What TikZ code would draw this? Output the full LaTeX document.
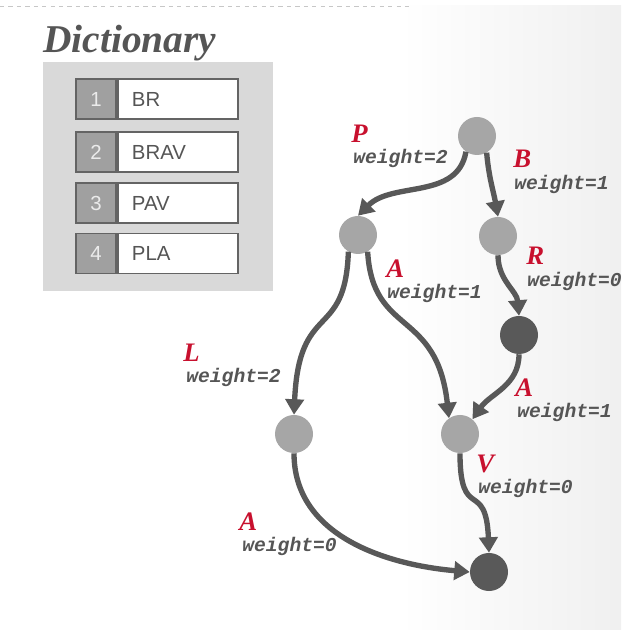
\documentclass[tikz,border=0pt]{standalone}
\usepackage{fontspec}
\setmainfont{Liberation Serif}
\setsansfont{Liberation Sans}
\setmonofont{Liberation Mono}
\usepackage{tikz}
\usetikzlibrary{arrows.meta,positioning}

\definecolor{lightnode}{RGB}{166,166,166}
\definecolor{darknode}{RGB}{89,89,89}
\definecolor{edgegray}{RGB}{88,88,88}
\definecolor{labelred}{RGB}{200,16,46}
\definecolor{textgray}{RGB}{85,85,85}
\definecolor{panelgray}{RGB}{217,217,217}
\definecolor{cellgray}{RGB}{160,160,160}
\definecolor{boxborder}{RGB}{100,100,100}

\begin{document}
\begin{tikzpicture}[x=0.025cm,y=0.025cm,>={Triangle[width=13pt,length=11pt]}]
\tikzstyle{light}=[circle,fill=lightnode,minimum size=0.95cm,inner sep=0pt]
\tikzstyle{dark}=[circle,fill=darknode,minimum size=0.95cm,inner sep=0pt]
\tikzstyle{link}=[->,draw=edgegray,line width=3.8pt]
\tikzstyle{letter}=[anchor=base west,inner sep=0pt,text=labelred,font=\fontsize{19}{19}\selectfont\bfseries\itshape]
\tikzstyle{weight}=[anchor=base west,inner sep=0pt,text=textgray,font=\fontsize{14}{14}\selectfont\ttfamily\bfseries\itshape]
\tikzstyle{numcell}=[draw=boxborder,line width=1.4pt,fill=cellgray,text=white!92!black,minimum width=1cm,minimum height=1cm,inner sep=0pt,font=\sffamily\fontsize{14.5}{14.5}\selectfont]
\tikzstyle{wordcell}=[draw=boxborder,line width=1.4pt,fill=white,text=textgray,minimum height=1cm,text width=2.3cm,inner xsep=0.35cm,inner ysep=0pt,align=left,font=\sffamily\fontsize{14.5}{14.5}\selectfont]

\useasboundingbox (0,0) rectangle (621,630);
\shade[left color=white,right color=black!6] (400,0) rectangle (621,624);
\draw[dashed,line width=0.6pt,black!22] (0,624) -- (410,624);

% dictionary
\node[anchor=base west,inner sep=0pt,text=textgray,font=\fontsize{28}{28}\selectfont\bfseries\itshape] (title) at (43,577) {Dictionary};
\fill[panelgray] (43,339) rectangle (273,568);
\foreach \n/\w/\y in {1/BR/531,2/BRAV/478,3/PAV/427,4/PLA/376.5}{
  \node[numcell] (num\n) at (96,\y) {\n};
  \node[wordcell,right=0pt of num\n] (word\n) {\w};
}

% trie
\node[light] (N0) at (477,494) {};
\node[light] (NP) at (358,395) {};
\node[light] (NB) at (498,394) {};
\node[dark]  (NBR) at (519,295) {};
\node[light] (NPL) at (294,196) {};
\node[light] (NV) at (460,196) {};
\node[dark]  (NEnd) at (489,58) {};

\draw[link] (N0.235) to[out=260,in=45] (NP.90);
\draw[link] (N0.300) to[out=275,in=100] (NB.90);
\draw[link] (NB.270) to[out=270,in=95] (NBR.90);
\draw[link] (NP.240) .. controls +(-3,-90) and +(5,115) .. (NPL.90);
\draw[link] (NP.300) .. controls +(5,-85) and +(-12,110) .. (NV.125);
\draw[link] (NBR.270) to[out=270,in=55] (NV.50);
\draw[link] (NV.270) .. controls +(0,-70) and +(-3,75) .. (NEnd.90);
\draw[link] (NPL.270) to[out=270,in=175] (NEnd.180);

% labels
\node[letter] (lP) at (351,487) {P};
\node[weight] (wP) at (353,466) {weight=2};
\node[letter] (lB) at (513,462) {B};
\node[weight] (wB) at (514,440) {weight=1};
\node[letter] (lR) at (526,365) {R};
\node[weight] (wR) at (527,343) {weight=0};
\node[letter] (lA1) at (386,352) {A};
\node[weight] (wA1) at (387,331) {weight=1};
\node[letter] (lL) at (183,268) {L};
\node[weight] (wL) at (186,247) {weight=2};
\node[letter] (lA2) at (515,233) {A};
\node[weight] (wA2) at (517,212) {weight=1};
\node[letter] (lV) at (476,157) {V};
\node[weight] (wV) at (478,136) {weight=0};
\node[letter] (lA3) at (239,99) {A};
\node[weight] (wA3) at (242,78) {weight=0};
\end{tikzpicture}
\end{document}
